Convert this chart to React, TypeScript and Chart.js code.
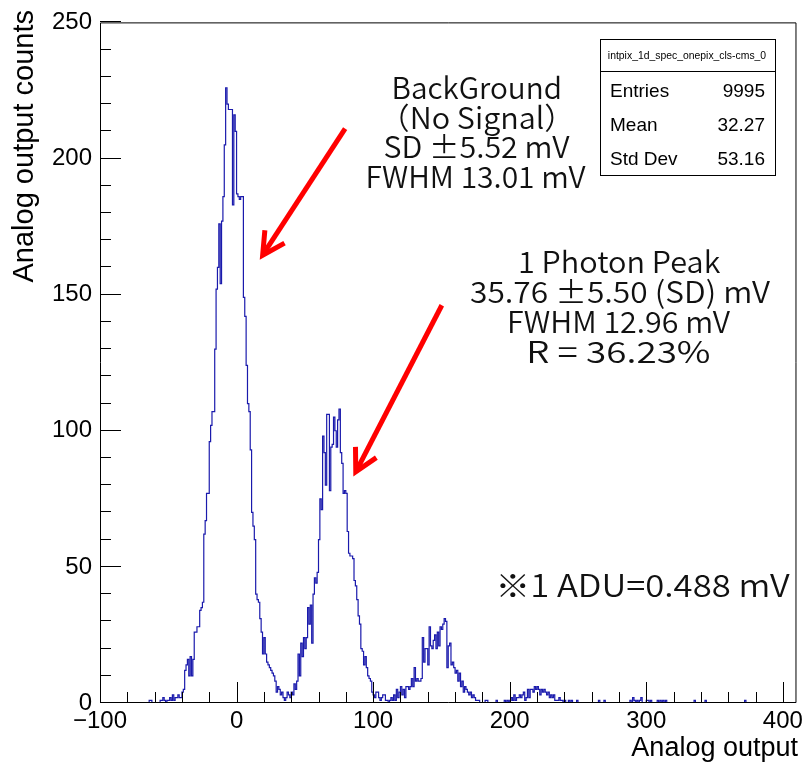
import { useEffect, useRef } from 'react';
import { Chart, registerables } from 'chart.js';

Chart.register(...registerables);

// ---------- axis definition ----------
const X_MIN = -100;
const X_MAX = 410;
const Y_MIN = 0;
const Y_MAX = 250;
const X_MAJOR = 100;
const X_MINOR = 20;
const Y_MAJOR = 50;
const Y_MINOR = 10;
const xTickLabels = [-100, 0, 100, 200, 300, 400];
const yTickLabels = [0, 50, 100, 150, 200, 250];

// ---------- histogram contents (1 ADU bins, value = counts) ----------
const tailLeftStart = -64;
const tailLeftCounts = [0, 1, 1, 0, 0, 0, 0, 0, 0, 1, 1, 2, 1, 0, 1, 1, 2, 1, 3, 1, 2, 2, 3, 2];

const pedestalStart = -40;
const pedestalCounts = [
  2, 4, 5, 12, 14, 16, 10, 17, 10, 16,
  26, 26, 28, 28, 34, 35, 37, 62, 67, 77,
  77, 96, 102, 107, 107, 130, 152, 160, 176, 154,
  177, 186, 205, 226, 220, 218, 218, 218, 183, 216,
  210, 187, 186, 185, 186, 186, 149, 142, 124, 110,
  107, 93, 70, 65, 60, 40, 38, 37, 31, 26,
  18, 24, 18, 15, 14, 13, 12, 11, 10, 8,
  4, 6, 5, 3, 4, 2, 1, 2,
];

const onePhotonStart = 38;
const onePhotonCounts = [
  4, 3, 2, 4, 3, 7, 5, 8, 18, 10,
  22, 17, 24, 20, 24, 35, 29, 36, 22, 40,
  46, 44, 48, 60, 75, 71, 98, 92, 80, 106,
  106, 78, 94, 95, 105, 100, 94, 104, 108, 92,
  88, 77, 78, 77, 63, 55, 54, 54, 53, 45,
  43, 38, 32, 29, 20, 19, 14, 17, 13, 10,
  9, 8, 4, 3, 2, 4, 4, 2, 1, 2,
  3, 3, 1,
];

const twoPhotonStart = 111;
const twoPhotonCounts = [
  1, 0, 1, 2, 1, 3, 1, 5, 2, 4,
  6, 3, 5, 2, 6, 6, 5, 6, 9, 6,
  13, 8, 9, 8, 8, 9, 24, 15, 20, 20,
  14, 28, 21, 20, 23, 25, 20, 26, 21, 28,
  27, 29, 31, 30, 13, 21, 22, 14, 15, 13,
  11, 12, 8, 11, 6, 8, 4, 6, 5, 4,
  3, 4, 2, 3, 2, 1, 1, 1, 0, 0,
];

const tailRightStart = 181;
const tailRightCounts = [
  0, 0, 1, 1, 0, 0, 0, 0, 0, 0,
  1, 0, 0, 0, 0, 0, 1, 0, 1, 0,
  1, 2, 1, 3, 1, 2, 2, 3, 2, 3,
  4, 1, 2, 5, 2, 5, 5, 4, 6, 5,
  6, 5, 3, 5, 4, 5, 4, 3, 4, 2,
  3, 2, 3, 1, 1, 1, 2, 1, 1, 0,
  1, 0, 0, 1, 0, 1, 0, 0, 0, 1,
];

const farBins = [266, 270, 289, 291, 292, 294, 296, 297, 301, 302, 304, 309, 311, 313, 315, 336, 344, 373];
const farCounts = [1, 1, 1, 2, 1, 1, 1, 2, 1, 1, 1, 1, 1, 1, 1, 1, 1, 1];

// ---------- texts ----------
const histName = 'intpix_1d_spec_onepix_cls-cms_0';
const statsLabels = ['Entries', 'Mean', 'Std Dev'];
const statsValues = ['9995', '32.27', '53.16'];
const xTitle = 'Analog output';
const yTitle = 'Analog output counts';
const bgLines = ['BackGround', '（No Signal）', 'SD ±5.52 mV', 'FWHM 13.01 mV'];
const peakLines = ['1 Photon Peak', '35.76 ±5.50 (SD) mV', 'FWHM 12.96 mV', 'R = 36.23%'];
const noteText = '※1 ADU=0.488 mV';

// ink widths of the annotation lines (px), used to fit the glyph widths
const bgWidths = [165, 153, 185, 217];
const peakWidths = [200, 300, 220, 180];
const noteWidth = 290;

// arrows in data coordinates: [fromX, fromY, toX, toY]
const arrows = [
  [79.5, 211, 19.1, 164.5],
  [150.3, 146.1, 87.3, 84.9],
];

function buildHistogram() {
  const n = X_MAX - X_MIN;
  const counts = new Array(n).fill(0);
  const put = (start: number, arr: number[]) => {
    arr.forEach((v, i) => {
      counts[start + i - X_MIN] = v;
    });
  };
  put(tailLeftStart, tailLeftCounts);
  put(pedestalStart, pedestalCounts);
  put(onePhotonStart, onePhotonCounts);
  put(twoPhotonStart, twoPhotonCounts);
  put(tailRightStart, tailRightCounts);
  farBins.forEach((b, i) => {
    counts[b - X_MIN] = farCounts[i];
  });
  const pts = counts.map((c, i) => ({ x: X_MIN + i, y: c }));
  pts.push({ x: X_MAX, y: counts[n - 1] });
  return pts;
}

const SANS = '"Liberation Sans", Arial, Helvetica, sans-serif';
const JP = '"Noto Sans CJK JP", "Noto Sans", sans-serif';

// draw text so that its ink spans `width` px, centred on cx (or starting at left)
function fitText(ctx: CanvasRenderingContext2D, text: string, anchorX: number, y: number, width: number, mode: 'center' | 'left') {
  ctx.textAlign = 'left';
  const m = ctx.measureText(text);
  const inkL = -m.actualBoundingBoxLeft;
  const inkW = m.actualBoundingBoxLeft + m.actualBoundingBoxRight;
  let s = width / inkW;
  if (s < 0.8) s = 0.8;
  if (s > 1.3) s = 1.3;
  const startInk = mode === 'center' ? anchorX - (inkW * s) / 2 : anchorX;
  ctx.save();
  ctx.translate(startInk - inkL * s, y);
  ctx.scale(s, 1);
  ctx.fillText(text, 0, 0);
  ctx.restore();
}

const rootFrame = {
  id: 'rootFrame',
  afterDatasetsDraw(chart: any) {
    const { ctx, chartArea: a, scales } = chart;
    const x = scales.x;
    const y = scales.y;
    ctx.save();
    ctx.strokeStyle = '#000';
    ctx.lineWidth = 1;
    ctx.beginPath();
    // frame
    ctx.moveTo(a.left + 0.5, a.top + 0.5);
    ctx.lineTo(a.right - 0.5, a.top + 0.5);
    ctx.lineTo(a.right - 0.5, a.bottom - 0.5);
    ctx.lineTo(a.left + 0.5, a.bottom - 0.5);
    ctx.closePath();
    // x ticks (inside)
    for (let v = X_MIN; v <= X_MAX; v += X_MINOR) {
      const px = Math.round(x.getPixelForValue(v)) + 0.5;
      const len = v % X_MAJOR === 0 ? 21 : 11;
      ctx.moveTo(px, a.bottom);
      ctx.lineTo(px, a.bottom - len);
    }
    // y ticks (inside)
    for (let v = Y_MIN; v <= Y_MAX; v += Y_MINOR) {
      const py = Math.round(y.getPixelForValue(v)) - 0.5;
      const len = v % Y_MAJOR === 0 ? 21 : 11;
      ctx.moveTo(a.left, py);
      ctx.lineTo(a.left + len, py);
    }
    ctx.stroke();
    ctx.restore();
  },
  afterDraw(chart: any) {
    const { ctx, scales } = chart;
    const x = scales.x;
    const y = scales.y;
    ctx.save();

    // axis titles
    ctx.fillStyle = '#000';
    ctx.font = `27px ${SANS}`;
    ctx.textAlign = 'right';
    ctx.textBaseline = 'alphabetic';
    ctx.fillText(xTitle, 798, 756);

    ctx.save();
    ctx.translate(33, 10);
    ctx.rotate(-Math.PI / 2);
    ctx.font = `29px ${SANS}`;
    ctx.textAlign = 'right';
    ctx.textBaseline = 'alphabetic';
    ctx.fillText(yTitle, 0, 0);
    ctx.restore();

    // annotation text blocks
    ctx.fillStyle = '#111';
    ctx.font = `350 30px ${JP}`;
    ctx.textBaseline = 'middle';
    bgLines.forEach((t, i) => fitText(ctx, t, 477, 88 + i * 29.5, bgWidths[i], 'center'));
    peakLines.forEach((t, i) => fitText(ctx, t, 620, 262 + i * 29.7, peakWidths[i], 'center'));
    ctx.font = `350 31px ${JP}`;
    fitText(ctx, noteText, 500, 585, noteWidth, 'left');

    // arrows
    ctx.strokeStyle = '#ff0000';
    ctx.lineWidth = 5;
    ctx.lineCap = 'butt';
    ctx.lineJoin = 'miter';
    arrows.forEach(([fx, fy, tx, ty]) => {
      const x0 = x.getPixelForValue(fx);
      const y0 = y.getPixelForValue(fy);
      const x1 = x.getPixelForValue(tx);
      const y1 = y.getPixelForValue(ty);
      const ang = Math.atan2(y0 - y1, x0 - x1);
      const head = 25;
      const spread = (28 * Math.PI) / 180;
      ctx.beginPath();
      ctx.moveTo(x0, y0);
      ctx.lineTo(x1 + Math.cos(ang) * 2, y1 + Math.sin(ang) * 2);
      ctx.stroke();
      ctx.beginPath();
      ctx.moveTo(x1 + Math.cos(ang + spread) * head, y1 + Math.sin(ang + spread) * head);
      ctx.lineTo(x1, y1);
      ctx.lineTo(x1 + Math.cos(ang - spread) * head, y1 + Math.sin(ang - spread) * head);
      ctx.stroke();
    });

    // stats box
    const bx = 600.5, by = 39.5, bw = 175, bh = 136;
    ctx.fillStyle = '#fff';
    ctx.fillRect(bx, by, bw, bh);
    ctx.strokeStyle = '#000';
    ctx.lineWidth = 1;
    ctx.strokeRect(bx, by, bw, bh);
    ctx.beginPath();
    ctx.moveTo(bx, 71.5);
    ctx.lineTo(bx + bw, 71.5);
    ctx.stroke();
    ctx.fillStyle = '#000';
    ctx.font = `10.4px ${SANS}`;
    ctx.textAlign = 'center';
    ctx.textBaseline = 'middle';
    ctx.fillText(histName, bx + bw / 2 - 1, 56.5);
    ctx.font = `19px ${SANS}`;
    statsLabels.forEach((t, i) => {
      const ry = 92 + i * 34;
      ctx.textAlign = 'left';
      ctx.fillText(t, 610, ry);
      ctx.textAlign = 'right';
      ctx.fillText(statsValues[i], 765, ry);
    });

    ctx.restore();
  },
};

export default function App() {
  const ref = useRef<HTMLCanvasElement | null>(null);
  useEffect(() => {
    if (!ref.current) return;
    const tickFont = { family: SANS, size: 24 };
    const chart = new Chart(ref.current, {
      type: 'line',
      data: {
        datasets: [
          {
            data: buildHistogram(),
            stepped: 'after',
            borderColor: 'rgb(26,26,172)',
            borderWidth: 1.2,
            pointRadius: 0,
            fill: false,
          },
        ],
      },
      options: {
        responsive: false,
        animation: false,
        events: [],
        layout: { padding: { top: 22, right: 8, left: 0, bottom: 0 } },
        plugins: { legend: { display: false }, tooltip: { enabled: false } },
        scales: {
          x: {
            type: 'linear',
            min: X_MIN,
            max: X_MAX,
            grid: { display: false, drawTicks: false },
            border: { display: false },
            afterBuildTicks: (s: any) => {
              s.ticks = xTickLabels.map((v) => ({ value: v }));
            },
            ticks: {
              autoSkip: false,
              maxRotation: 0,
              padding: 4,
              color: '#000',
              font: tickFont,
              callback: (v: any) => (Number(v) < 0 ? '\u2212' + Math.abs(Number(v)) : String(v)),
            },
            afterFit: (s: any) => {
              s.height = 59;
            },
          },
          y: {
            type: 'linear',
            min: Y_MIN,
            max: Y_MAX,
            grid: { display: false, drawTicks: false },
            border: { display: false },
            afterBuildTicks: (s: any) => {
              s.ticks = yTickLabels.map((v) => ({ value: v }));
            },
            ticks: {
              autoSkip: false,
              padding: 8,
              color: '#000',
              font: tickFont,
            },
            afterFit: (s: any) => {
              s.width = 100;
            },
          },
        },
      },
      plugins: [rootFrame],
    } as any);
    return () => chart.destroy();
  }, []);
  return (
    <div style={{ position: 'fixed', left: 0, top: 0, width: 807, height: 762, background: '#fff' }}>
      <canvas ref={ref} width={807} height={762} style={{ display: 'block' }} />
    </div>
  );
}
